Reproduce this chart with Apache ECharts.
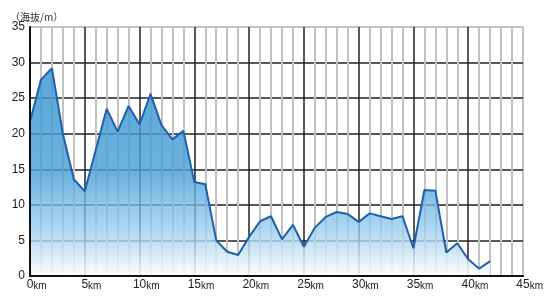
<!DOCTYPE html>
<html>
<head>
<meta charset="utf-8">
<script src="https://cdn.jsdelivr.net/npm/echarts@6/dist/echarts.min.js"></script>
<style>html,body{margin:0;padding:0;background:#fff}#c{width:550px;height:300px}</style>
</head>
<body>
<div id="c"></div>
<script>
var distancesKm = [0,1,2,3,4,5,6,7,8,9,10,11,12,13,14,15,16,17,18,19,20,21,22,23,24,25,26,27,28,29,30,31,32,33,34,35,36,37,38,39,40,41,42];
var elevationM = [21.7,27.6,29.2,20.0,13.6,11.9,17.7,23.5,20.3,23.9,21.3,25.6,21.2,19.2,20.4,13.2,12.9,5.0,3.4,2.95,5.5,7.7,8.4,5.15,7.2,4.1,6.8,8.3,9.0,8.7,7.6,8.8,8.4,8.0,8.4,3.9,12.1,12.0,3.3,4.6,2.35,1.03,2.1];
var xTicks = [0,5,10,15,20,25,30,35,40,45];
var yTicks = [0,5,10,15,20,25,30,35];
var titleText = '（海抜/m）';

var pts = distancesKm.map(function(d,i){return [d, elevationM[i]];});
var chart = echarts.init(document.getElementById('c'), null, {renderer:'canvas'});
var font = '"Liberation Sans", Arial, sans-serif';
var labelColor = '#222';
chart.setOption({
  animation:false,
  title:{text:titleText,left:5,top:7,textStyle:{fontFamily:'"Noto Sans CJK JP", sans-serif',fontSize:10,fontWeight:'normal',color:'#333'}},
  grid:{left:30,right:27,top:27,bottom:24,show:true,borderColor:'#c2c2c2',borderWidth:2,backgroundColor:'transparent'},
  xAxis:[{type:'value',min:0,max:45,interval:5,z:0,
    axisLine:{show:false},axisTick:{show:false},axisLabel:{show:false},
    minorTick:{show:false,splitNumber:5},
    minorSplitLine:{show:true,lineStyle:{color:'#c2c2c2',width:2}},
    splitLine:{show:true,showMinLine:false,showMaxLine:false,lineStyle:{color:'#222',width:1.5}}
  },{type:'value',min:0,max:45,interval:5,z:5,position:'bottom',
    axisLine:{show:true,onZero:false,lineStyle:{color:'#111',width:2}},
    axisTick:{show:false},splitLine:{show:false},
    axisLabel:{margin:3,
      formatter:function(v){return xTicks.indexOf(v)>=0 ? '{h|km}{n|'+v+'}{k|km}' : '';},
      rich:{h:{fontSize:10,fontFamily:font,color:'rgba(0,0,0,0)',verticalAlign:'bottom'},n:{fontSize:12,fontFamily:font,color:labelColor,verticalAlign:'bottom'},k:{fontSize:10,fontFamily:font,color:labelColor,verticalAlign:'bottom'}}
    }
  }],
  yAxis:[{type:'value',min:0,max:35,interval:5,z:0,
    axisLine:{show:false},axisTick:{show:false},axisLabel:{show:false},
    splitLine:{show:true,showMinLine:false,showMaxLine:false,lineStyle:{color:'#222',width:1.5}}
  },{type:'value',min:0,max:35,interval:5,z:5,position:'left',
    axisLine:{show:true,onZero:false,lineStyle:{color:'#111',width:2}},
    axisTick:{show:false},splitLine:{show:false},
    axisLabel:{margin:5,fontSize:12,fontFamily:font,color:labelColor,
      formatter:function(v){return yTicks.indexOf(v)>=0?String(v):'';}}
  }],
  series:[{type:'line',data:pts,symbol:'none',z:2,xAxisIndex:0,yAxisIndex:0,
    lineStyle:{color:'#1f5fae',width:2},
    areaStyle:{opacity:1,color:new echarts.graphic.LinearGradient(0,0,0,1,[
      {offset:0,color:'rgba(60,152,210,0.85)'},
      {offset:0.5,color:'rgba(75,160,214,0.82)'},
      {offset:0.75,color:'rgba(140,198,234,0.75)'},
      {offset:1,color:'rgba(255,255,255,0.9)'}
    ])}
  }]
});
</script>
</body>
</html>
